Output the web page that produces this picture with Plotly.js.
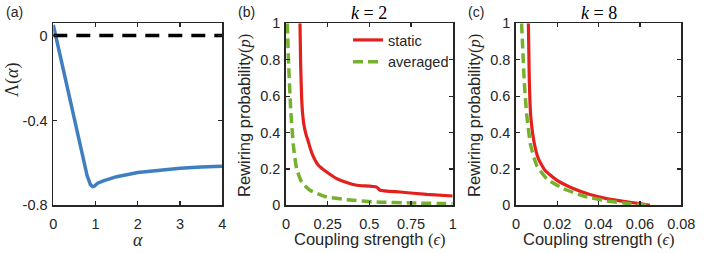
<!DOCTYPE html>
<html>
<head>
<meta charset="utf-8">
<script src="https://cdn.plot.ly/plotly-3.0.1.min.js"></script>
<style>html,body{margin:0;padding:0;background:#fff;}#chart{width:706px;height:253px;}</style>
</head>
<body>
<div id="chart"></div>
<script>
// Panel (a)
var alpha = [0, 0.1, 0.2, 0.4, 0.6, 0.8, 0.88, 0.93, 0.97, 1.0, 1.05, 1.2, 1.5, 2, 2.5, 3, 3.5, 4];
var lambda = [0.05, -0.04, -0.13, -0.31, -0.49, -0.66, -0.703, -0.712, -0.71, -0.703, -0.696, -0.684, -0.665, -0.645, -0.633, -0.625, -0.62, -0.616];
var zeroX = [0, 4];
var zeroY = [0, 0];
// Panel (b) k = 2
var epsStaticK2 = [0.084, 0.086, 0.088, 0.094, 0.1, 0.108, 0.12, 0.134, 0.154, 0.194, 0.244, 0.304, 0.364, 0.424, 0.544, 0.564, 0.684, 0.844, 1.0];
var pStaticK2 = [1, 0.88, 0.77, 0.587, 0.5, 0.44, 0.39, 0.349, 0.29, 0.22, 0.183, 0.147, 0.125, 0.11, 0.10, 0.083, 0.073, 0.06, 0.051];
var epsAvgK2 = [0.008, 0.012, 0.016, 0.028, 0.044, 0.064, 0.094, 0.144, 0.244, 0.364, 0.544, 0.744, 1.0];
var pAvgK2 = [1, 0.88, 0.77, 0.53, 0.33, 0.2, 0.128, 0.083, 0.046, 0.031, 0.018, 0.013, 0.009];
// Panel (c) k = 8
var epsStaticK8 = [0.006, 0.0062, 0.00645, 0.0071, 0.0087, 0.0108, 0.014, 0.0197, 0.0277, 0.0358, 0.0439, 0.052, 0.06, 0.0648];
var pStaticK8 = [1, 0.85, 0.68, 0.495, 0.349, 0.257, 0.193, 0.138, 0.092, 0.059, 0.037, 0.022, 0.009, 0];
var epsAvgK8 = [0.0027, 0.0033, 0.004, 0.0052, 0.0071, 0.01, 0.0148, 0.0229, 0.0326, 0.0439, 0.0552, 0.0656];
var pAvgK8 = [1, 0.85, 0.68, 0.495, 0.33, 0.22, 0.147, 0.092, 0.051, 0.024, 0.009, 0];
// Tick labels
var aYTickVals = [0, -0.4, -0.8];
var aYTickText = ['0', '-0.4', '-0.8'];
var aXTickVals = [0, 1, 2, 3, 4];
var bXTickVals = [0, 0.25, 0.5, 0.75, 1];
var bXTickText = ['0', '0.25', '0.5', '0.75', '1'];
var pTickVals = [0, 0.2, 0.4, 0.6, 0.8, 1];
var pTickText = ['0', '0.2', '0.4', '0.6', '0.8', '1'];
var cXTickVals = [0, 0.02, 0.04, 0.06, 0.08];
var cXTickText = ['0', '0.02', '0.04', '0.06', '0.08'];
var seriesNames = ['static', 'averaged'];

var RED = '#e3201b', GREEN = '#76b02f', BLUE = '#3f7fc0', AX = '#262626';
var greenDash = '10px,5px';
var sm = {color: RED, width: 3.2, shape: 'spline', smoothing: 0.5};

var traces = [
  {x: alpha, y: lambda, xaxis: 'x', yaxis: 'y', mode: 'lines', line: {color: BLUE, width: 3.5}, showlegend: false},
  {x: zeroX, y: zeroY, xaxis: 'x', yaxis: 'y', mode: 'lines', line: {color: '#000', width: 3.5, dash: '14px,9px'}, showlegend: false},
  {x: epsStaticK2, y: pStaticK2, xaxis: 'x2', yaxis: 'y2', mode: 'lines', name: seriesNames[0], line: sm},
  {x: epsAvgK2, y: pAvgK2, xaxis: 'x2', yaxis: 'y2', mode: 'lines', name: seriesNames[1], line: {color: GREEN, width: 3.5, dash: greenDash, shape: 'spline', smoothing: 0.5}},
  {x: epsStaticK8, y: pStaticK8, xaxis: 'x3', yaxis: 'y3', mode: 'lines', line: sm, showlegend: false},
  {x: epsAvgK8, y: pAvgK8, xaxis: 'x3', yaxis: 'y3', mode: 'lines', line: {color: GREEN, width: 3.5, dash: greenDash, shape: 'spline', smoothing: 0.5}, showlegend: false}
];

function ax(extra) {
  var base = {showline: true, mirror: 'ticks', ticks: 'inside', ticklen: 4, tickwidth: 1.2, tickcolor: AX,
    linecolor: AX, linewidth: 1.8, showgrid: false, zeroline: false, fixedrange: true,
    tickfont: {family: 'Liberation Sans, Arial, sans-serif', size: 14.5, color: AX}};
  for (var k in extra) base[k] = extra[k];
  return base;
}
var yDom = [47.7 / 253, 229.7 / 253];
var serif = 'Liberation Serif, Times New Roman, serif';
var sans = 'Liberation Sans, Arial, sans-serif';

var layout = {
  width: 706, height: 253,
  margin: {l: 0, r: 0, t: 0, b: 0},
  paper_bgcolor: '#fff', plot_bgcolor: '#fff',
  xaxis: ax({domain: [53.3 / 706, 222.3 / 706], range: [0, 4], tickvals: aXTickVals, anchor: 'y', ticklabelstandoff: 4}),
  yaxis: ax({domain: yDom, range: [-0.8, 0.058], tickvals: aYTickVals, ticktext: aYTickText, anchor: 'x', ticklabelstandoff: 1}),
  xaxis2: ax({domain: [286 / 706, 452.7 / 706], range: [0, 1], tickvals: bXTickVals, ticktext: bXTickText, anchor: 'y2', ticklabelstandoff: 4}),
  yaxis2: ax({domain: yDom, range: [0, 1], tickvals: pTickVals, ticktext: pTickText, anchor: 'x2', ticklabelstandoff: 1}),
  xaxis3: ax({domain: [516 / 706, 681.3 / 706], range: [0, 0.08], tickvals: cXTickVals, ticktext: cXTickText, anchor: 'y3', ticklabelstandoff: 4}),
  yaxis3: ax({domain: yDom, range: [0, 1], tickvals: pTickVals, ticktext: pTickText, anchor: 'x3', ticklabelstandoff: 1}),
  showlegend: true,
  legend: {x: 348 / 706, y: (253 - 24) / 253, xanchor: 'left', yanchor: 'top', bgcolor: 'rgba(0,0,0,0)',
    font: {family: sans, size: 14.5, color: AX}, itemwidth: 30, tracegroupgap: 0},
  annotations: [
    {text: '(a)', x: 4 / 706, y: 1 - 12 / 253, xref: 'paper', yref: 'paper', xanchor: 'left', yanchor: 'middle', showarrow: false, font: {family: sans, size: 14, color: AX}},
    {text: '(b)', x: 236 / 706, y: 1 - 12 / 253, xref: 'paper', yref: 'paper', xanchor: 'left', yanchor: 'middle', showarrow: false, font: {family: sans, size: 14, color: AX}},
    {text: '(c)', x: 466 / 706, y: 1 - 12 / 253, xref: 'paper', yref: 'paper', xanchor: 'left', yanchor: 'middle', showarrow: false, font: {family: sans, size: 14, color: AX}},
    {text: '<i>k</i> = 2', x: 369 / 706, y: 1 - 13 / 253, xref: 'paper', yref: 'paper', xanchor: 'center', yanchor: 'middle', showarrow: false, font: {family: serif, size: 18, color: '#000'}},
    {text: '<i>k</i> = 8', x: 599 / 706, y: 1 - 13 / 253, xref: 'paper', yref: 'paper', xanchor: 'center', yanchor: 'middle', showarrow: false, font: {family: serif, size: 18, color: '#000'}},
    {text: 'Λ(<i>α</i>)', x: 13 / 706, y: 1 - 80 / 253, xref: 'paper', yref: 'paper', xanchor: 'center', yanchor: 'middle', textangle: -90, showarrow: false, font: {family: serif, size: 18, color: AX}},
    {text: '<i>α</i>', x: 138 / 706, y: 1 - 240 / 253, xref: 'paper', yref: 'paper', xanchor: 'center', yanchor: 'middle', showarrow: false, font: {family: serif, size: 18, color: AX}},
    {text: 'Rewiring probability<span style="font-family:Liberation Serif">(<i>p</i>)</span>', x: 244 / 706, y: 1 - 116 / 253, xref: 'paper', yref: 'paper', xanchor: 'center', yanchor: 'middle', textangle: -90, showarrow: false, font: {family: sans, size: 16.5, color: AX}},
    {text: 'Rewiring probability<span style="font-family:Liberation Serif">(<i>p</i>)</span>', x: 474 / 706, y: 1 - 116 / 253, xref: 'paper', yref: 'paper', xanchor: 'center', yanchor: 'middle', textangle: -90, showarrow: false, font: {family: sans, size: 16.5, color: AX}},
    {text: 'Coupling strength <span style="font-family:Liberation Serif">(<i>ϵ</i>)</span>', x: 370 / 706, y: 1 - 239 / 253, xref: 'paper', yref: 'paper', xanchor: 'center', yanchor: 'middle', showarrow: false, font: {family: sans, size: 16.5, color: AX}},
    {text: 'Coupling strength <span style="font-family:Liberation Serif">(<i>ϵ</i>)</span>', x: 599 / 706, y: 1 - 239 / 253, xref: 'paper', yref: 'paper', xanchor: 'center', yanchor: 'middle', showarrow: false, font: {family: sans, size: 16.5, color: AX}}
  ]
};
Plotly.newPlot('chart', traces, layout, {staticPlot: true, displayModeBar: false});
</script>
</body>
</html>
